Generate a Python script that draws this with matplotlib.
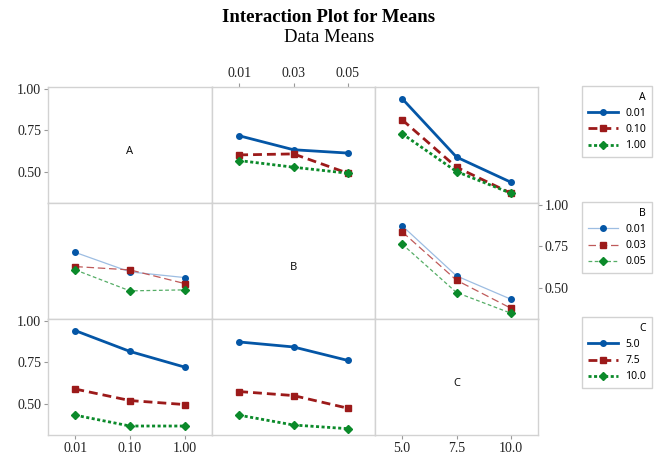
import matplotlib
matplotlib.use('Agg')
import matplotlib.pyplot as plt
from matplotlib.lines import Line2D

plt.rcParams['font.family'] = 'Liberation Serif'

# factor levels
factors = ['A', 'B', 'C']
a_levels = ['0.01', '0.10', '1.00']
b_levels = ['0.01', '0.03', '0.05']
c_levels = ['5.0', '7.5', '10.0']

# means: one row per level of the trace factor, one column per level of the x factor
a_by_b = [[0.717, 0.633, 0.613], [0.602, 0.608, 0.492], [0.568, 0.528, 0.492]]
a_by_c = [[0.940, 0.589, 0.438], [0.813, 0.528, 0.372], [0.729, 0.502, 0.372]]
b_by_a = [[0.713, 0.596, 0.562], [0.628, 0.608, 0.526], [0.608, 0.482, 0.488]]
b_by_c = [[0.873, 0.572, 0.432], [0.837, 0.546, 0.378], [0.763, 0.472, 0.348]]
c_by_a = [[0.940, 0.815, 0.721], [0.589, 0.520, 0.496], [0.432, 0.367, 0.367]]
c_by_b = [[0.872, 0.842, 0.761], [0.574, 0.550, 0.474], [0.432, 0.373, 0.351]]

y_ticks = [0.50, 0.75, 1.00]

levels = {'A': a_levels, 'B': b_levels, 'C': c_levels}
panels = {
    ('A', 'B'): a_by_b, ('A', 'C'): a_by_c,
    ('B', 'A'): b_by_a, ('B', 'C'): b_by_c,
    ('C', 'A'): c_by_a, ('C', 'B'): c_by_b,
}

# styles
colors = ['#0456a6', '#9c1a1a', '#0b8a2a']
light = ['#9dbde2', '#bf5a5a', '#55ad66']
markers = ['o', 's', 'D']
msizes = [4, 4.5, 4.5]
thick_ls = ['-', (0, (3.2, 1.8)), (0, (1.1, 0.9))]
thin_ls = ['-', (0, (6, 3)), (0, (3, 2))]
grey = '#d2d2d2'


def style(factor, i):
    if factor == 'B':
        return dict(color=light[i], lw=0.9, ls=thin_ls[i], marker=markers[i],
                    ms=msizes[i], mfc=colors[i], mec=colors[i])
    return dict(color=colors[i], lw=2.0, ls=thick_ls[i], marker=markers[i],
                ms=msizes[i], mfc=colors[i], mec=colors[i])


W, H = 659, 458
fig = plt.figure(figsize=(W / 100, H / 100), dpi=100)

xs = [48, 212, 375, 538]
ys = [87, 203, 319, 435]

for r, rf in enumerate(factors):
    for c, cf in enumerate(factors):
        ax = fig.add_axes([xs[c] / W, 1 - ys[r + 1] / H,
                           (xs[c + 1] - xs[c]) / W, (ys[r + 1] - ys[r]) / H])
        ax.set_xlim(-0.5, 2.5)
        ax.set_ylim(0.313, 1.01)
        for s in ax.spines.values():
            s.set_color(grey)
            s.set_linewidth(1.0)
        ax.tick_params(length=0, labelleft=False, labelbottom=False,
                       colors='#999999', labelcolor='#222222', labelsize=10)
        ax.set_xticks([])
        ax.set_yticks([])

        if r == c:
            ax.text(0.5, 0.44, rf, transform=ax.transAxes, ha='center', va='center',
                    fontsize=8, family='Noto Sans', color='#111111')
        else:
            data = panels[(rf, cf)]
            for i, vals in enumerate(data):
                ax.plot(range(3), vals, **style(rf, i))

        # axis ticks as in the reference layout
        if c == 0 and r != 1:
            ax.set_yticks(y_ticks)
            ax.set_yticklabels(['%.2f' % v for v in y_ticks])
            ax.tick_params(axis='y', length=3, labelleft=True, pad=2)
        if c == 2 and r == 1:
            ax.yaxis.tick_right()
            ax.set_yticks(y_ticks)
            ax.set_yticklabels(['%.2f' % v for v in y_ticks])
            ax.tick_params(axis='y', length=3, labelright=True, pad=2)
        if r == 0 and c == 1:
            ax.xaxis.tick_top()
            ax.set_xticks(range(3))
            ax.set_xticklabels(levels[cf])
            ax.tick_params(axis='x', length=3, labeltop=True, pad=2)
        if r == 2 and c != 1:
            ax.set_xticks(range(3))
            ax.set_xticklabels(levels[cf])
            ax.tick_params(axis='x', length=3, labelbottom=True, pad=2)

# legends, one per factor
leg_tops = [86, 202, 317]
for f, top in zip(factors, leg_tops):
    handles = [Line2D([], [], **style(f, i)) for i in range(3)]
    fig.legend(handles, levels[f], title=f, loc='upper left',
               bbox_to_anchor=(582 / W, 1 - top / H), frameon=True,
               fancybox=False, edgecolor=grey, framealpha=1,
               prop={'family': 'Noto Sans', 'size': 7.5},
               title_fontproperties={'family': 'Noto Sans', 'size': 7.5},
               alignment='right', handlelength=2.9, handletextpad=0.7,
               borderaxespad=0, borderpad=0.55, labelspacing=0.5)

fig.text(329 / W, 1 - 17 / H, 'Interaction Plot for Means', ha='center', va='center',
         fontsize=13.5, weight='bold')
fig.text(329 / W, 1 - 38 / H, 'Data Means', ha='center', va='center', fontsize=13.5)

fig.savefig('out.png', dpi=100)
